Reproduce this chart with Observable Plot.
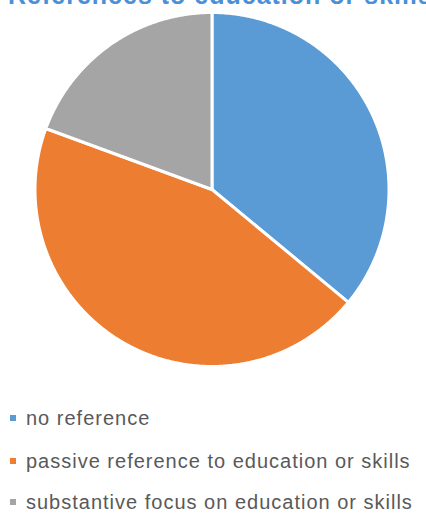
<!DOCTYPE html>
<html><head><meta charset="utf-8">
<script src="https://cdn.jsdelivr.net/npm/d3@7"></script>
<script src="https://cdn.jsdelivr.net/npm/@observablehq/plot@0.6"></script>
<style>
html,body{margin:0;padding:0;background:#fff;overflow:hidden;}
#wrap{position:relative;width:426px;height:513px;overflow:hidden;font-family:"Liberation Sans",Arial,sans-serif;}
#title{position:absolute;left:8px;top:-15px;white-space:nowrap;font-weight:bold;font-size:25px;line-height:20px;letter-spacing:1px;color:#4B8FD6;}
#chart{position:absolute;left:0;top:0;}
.leg{position:absolute;left:10px;white-space:nowrap;font-size:20px;letter-spacing:1px;color:#595959;line-height:16px;}
.leg span.sw{display:inline-block;width:6px;height:6px;margin-right:10px;vertical-align:middle;position:relative;top:-2px;}
</style></head>
<body><div id="wrap"><div id="chart"></div><div id="title">References to education or skills</div><div id="legend"></div></div>
<script>
const categories = ["no reference", "passive reference to education or skills", "substantive focus on education or skills"];
const shares = [36, 44.6, 19.4];
const colors = ["#5B9BD5", "#ED7D31", "#A5A5A5"];

const arcs = d3.pie().sort(null).value(d => d.v)(categories.map((c, i) => ({c, v: shares[i]})));
const pts = [];
for (const a of arcs) {
  pts.push({key: a.data.c, x: 0, y: 0});
  const n = Math.max(2, Math.ceil((a.endAngle - a.startAngle) / 0.005));
  for (let k = 0; k <= n; k++) {
    const t = a.startAngle + (a.endAngle - a.startAngle) * k / n;
    pts.push({key: a.data.c, x: Math.sin(t), y: Math.cos(t)});
  }
}
const W = 426, H = 380;
const plot = Plot.plot({
  width: W, height: H,
  marginLeft: 34.5, marginRight: 37.5, marginTop: 12, marginBottom: 14,
  x: {domain: [-1, 1], axis: null},
  y: {domain: [-1, 1], axis: null},
  color: {domain: categories, range: colors},
  marks: [
    Plot.line(pts, {x: "x", y: "y", z: "key", fill: "key", stroke: "white", strokeWidth: 3, strokeLinejoin: "round", curve: "linear-closed"})
  ]
});
document.getElementById("chart").appendChild(plot);

const tops = [410, 453, 494];
const leg = document.getElementById("legend");
categories.forEach((c, i) => {
  const d = document.createElement("div");
  d.className = "leg";
  d.style.top = tops[i] + "px";
  d.innerHTML = `<span class="sw" style="background:${colors[i]}"></span>${c}`;
  leg.appendChild(d);
});
</script>
</body></html>
